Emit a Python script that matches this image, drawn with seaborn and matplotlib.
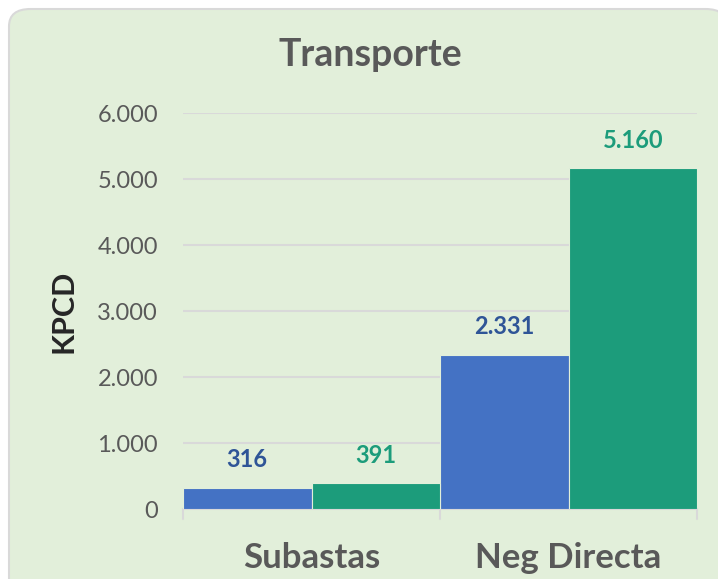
import pandas as pd
import matplotlib.pyplot as plt
import seaborn as sns
from matplotlib.patches import FancyBboxPatch
from matplotlib.ticker import FuncFormatter

# Datos
categorias = ['Subastas', 'Neg Directa']
series = ['Serie 1', 'Serie 2']
valores_serie1 = [316, 2331]
valores_serie2 = [391, 5160]
ticks_y = [0, 1000, 2000, 3000, 4000, 5000, 6000]

colores_barras = ['#4472C4', '#1C9C7B']
colores_etiquetas = ['#2F5597', '#1C9C7B']

df = pd.DataFrame({
    'categoria': categorias * 2,
    'serie': [series[0]] * 2 + [series[1]] * 2,
    'valor': valores_serie1 + valores_serie2,
})


def miles(v, pos=None):
    return f'{v:,.0f}'.replace(',', '.')


sns.set_style('white')
plt.rcParams['font.family'] = ['Lato', 'DejaVu Sans']

fig = plt.figure(figsize=(7.18, 5.79), dpi=100)
fig.patch.set_facecolor('white')

# Fondo verde con esquinas redondeadas (detrás de los ejes)
fondo = FancyBboxPatch((9 / 718, -0.05), 1.0, 1.05 - 9 / 579,
                       boxstyle='round,pad=0,rounding_size=0.03',
                       transform=fig.transFigure, facecolor='#E2EFDA',
                       edgecolor='#D9D9D9', linewidth=1.5, zorder=-10)
fig.patches.append(fondo)

ax = fig.add_axes([183 / 718, 70 / 579, 514 / 718, 396 / 579])
ax.set_facecolor('none')

sns.barplot(data=df, x='categoria', y='valor', hue='serie',
            palette=colores_barras, width=1.0, dodge=True,
            edgecolor='#E2EFDA', linewidth=0.8, legend=False,
            saturation=1, ax=ax, zorder=3)

# Etiquetas de datos
for cont, color in zip(ax.containers, colores_etiquetas):
    ax.bar_label(cont, labels=[miles(b.get_height()) for b in cont],
                 padding=12, color=color, fontsize=17, fontweight='bold')

ax.set_ylim(0, 6000)
ax.set_xlim(-0.5, 1.5)
ax.set_yticks(ticks_y)
ax.yaxis.set_major_formatter(FuncFormatter(miles))
ax.grid(axis='y', color='#D9D9D9', linewidth=1.5, zorder=0)
ax.set_axisbelow(True)

for lado in ['top', 'right', 'left']:
    ax.spines[lado].set_visible(False)
ax.spines['bottom'].set_color('#D9D9D9')
ax.spines['bottom'].set_linewidth(1.5)

ax.tick_params(axis='y', length=0, labelsize=17, labelcolor='#595959', pad=18)
ax.set_xticks([0, 1])
ax.set_xticklabels(categorias, fontsize=25, fontweight='bold', color='#595959')
ax.tick_params(axis='x', length=0, pad=24)

# Marcas entre categorías
for xm in [-0.5, 0.5, 1.5]:
    ax.plot([xm, xm], [0, -0.025], transform=ax.get_xaxis_transform(),
            color='#D9D9D9', linewidth=1.5, clip_on=False)

ax.set_xlabel('')
ax.set_ylabel('KPCD', fontsize=22, fontweight='bold', color='#262626', labelpad=14)

fig.text(370 / 718, 1 - 55 / 579, 'Transporte', ha='center', va='center',
         fontsize=27, fontweight='bold', color='#595959')

fig.savefig('out.png', dpi=100)
